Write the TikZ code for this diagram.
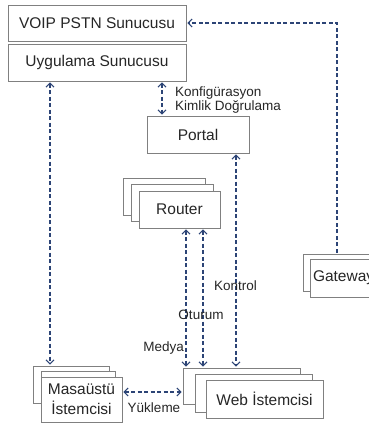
\documentclass[tikz,border=0pt]{standalone}
\usepackage{fontspec}
\setmainfont{Liberation Sans}
\usetikzlibrary{positioning, arrows.meta}
\definecolor{linkblue}{RGB}{44,68,118}
\definecolor{boxgray}{RGB}{128,128,128}

\begin{document}
\begin{tikzpicture}[
    x=1pt, y=-1pt,
    barb/.tip={Straight Barb[length=4pt, width=8pt, line width=1pt]},
    box/.style={rectangle, draw=boxgray, fill=white, line width=0.9pt, inner sep=2pt,
                text=black!85, font=\fontsize{15.5}{17}\selectfont},
    lbl/.style={text=black!85, inner sep=0pt, font=\fontsize{13.5}{14}\selectfont},
    link/.style={draw=linkblue, line width=1.1pt, dash pattern=on 4pt off 2.5pt,
                 barb-barb, shorten <=1pt, shorten >=1pt}
]

    \useasboundingbox (0,0) rectangle (369,424);
    \clip (0,0) rectangle (369,424);

    % Servers
    \node[box, minimum width=178pt, minimum height=36pt] (voip) at (97,23) {VOIP PSTN Sunucusu};
    \node[box, minimum width=178pt, minimum height=37pt] (app) at (97,62.5) {Uygulama Sunucusu};

    % Portal
    \node[box, minimum width=102pt, minimum height=37pt] (portal) at (198,134.5) {Portal};

    % Router stack
    \node[box, minimum width=82pt, minimum height=37pt] (router3) at (164,196.5) {};
    \node[box, minimum width=82pt, minimum height=37pt] (router2) at (172,203) {};
    \node[box, minimum width=81pt, minimum height=37pt] (router) at (179.5,209.5) {Router};

    % Gateway stack
    \node[box, minimum width=80pt, minimum height=37pt] (gw2) at (343,272.5) {};
    \node[box, minimum height=38pt, text width=74pt, align=left, inner xsep=3pt] (gw) at (350,278) {Gateway};

    % Desktop client stack
    \node[box, minimum width=76pt, minimum height=37pt] (desk3) at (71,384.5) {};
    \node[box, minimum width=74pt, minimum height=37pt] (desk2) at (78,390) {};
    \node[box, minimum width=81pt, minimum height=45pt, align=center,
          font=\fontsize{15.5}{20}\selectfont] (desk) at (81.5,399.5) {Masaüstü\\İstemcisi};

    % Web client stack
    \node[box, minimum width=117pt, minimum height=36pt] (web3) at (241.5,386) {};
    \node[box, minimum width=117pt, minimum height=38pt] (web2) at (253.5,393) {};
    \node[box, minimum width=117pt, minimum height=38pt] (web) at (264.5,399) {Web İstemcisi};

    % Line positions
    \coordinate (gwbend) at (337,23);
    \coordinate (deskline) at (50,0);
    \coordinate (cfgline) at (162,0);
    \coordinate (medialine) at (186,0);
    \coordinate (sessline) at (203,0);
    \coordinate (ctrlline) at (236,0);
    \coordinate (loadline) at (0,392);

    % Connections
    \draw[link, -barb] (gw2.north -| gwbend) |- (voip.east);
    \draw[link] (app.south -| deskline) -- (desk3.north -| deskline);
    \draw[link] (app.south -| cfgline) -- (portal.north -| cfgline);
    \draw[link] (portal.south -| ctrlline) -- (web3.north -| ctrlline);
    \draw[link] (router.south -| medialine) -- (web3.north -| medialine);
    \draw[link] (router.south -| sessline) -- (web3.north -| sessline);
    \draw[link] (desk.east |- loadline) -- (web3.west |- loadline);

    % Labels
    \node[lbl, anchor=west, align=left] (cfg) at (175,100) {Konfigürasyon\\Kimlik Doğrulama};
    \node[lbl, anchor=west] (ctrl) at (214,286) {Kontrol};
    \node[lbl] (sess) at (201,315) {Oturum};
    \node[lbl, anchor=east] (media) at (184,348) {Medya};
    \node[lbl] (load) at (154,408) {Yükleme};

\end{tikzpicture}
\end{document}
